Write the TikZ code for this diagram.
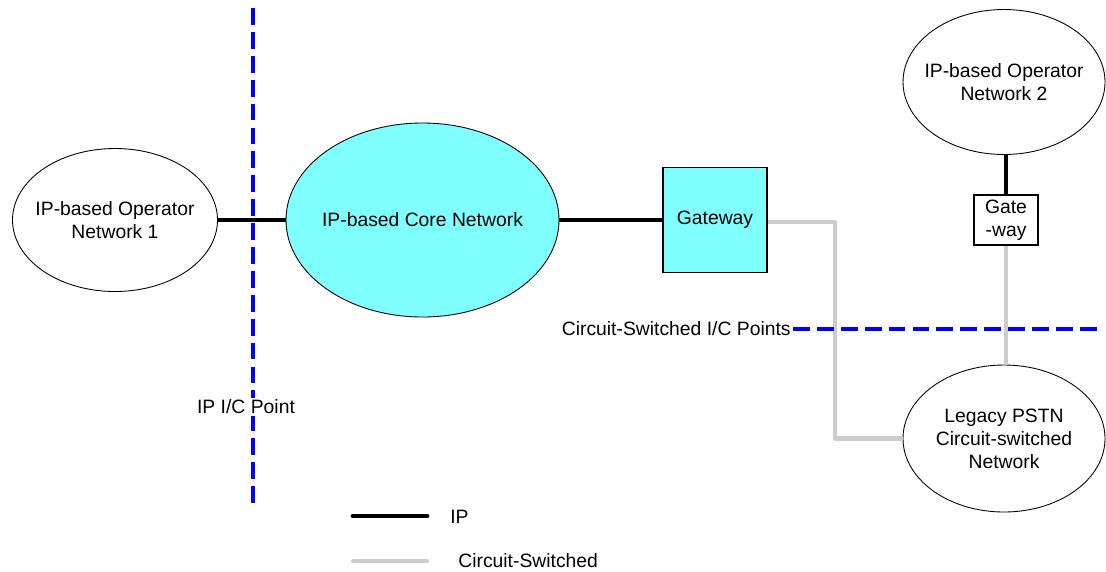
\documentclass[tikz,border=0pt]{standalone}
\usepackage{fontspec}
\setmainfont{Liberation Sans}
\usetikzlibrary{shapes.geometric}

\definecolor{corecyan}{RGB}{128,255,255}
\definecolor{csgray}{RGB}{204,204,204}
\definecolor{icblue}{RGB}{0,0,255}

\tikzset{
	net/.style = {ellipse, draw, line width = 0.5pt, inner xsep = -0.6cm, inner ysep = 0pt, align = center},
	gwbox/.style = {rectangle, draw, line width = 0.6pt, inner sep = 0pt, align = center},
	ipline/.style = {line width = 2.8pt},
	csline/.style = {line width = 2.3pt, csgray},
	icline/.style = {line width = 1.8pt, icblue, dash pattern = on 9.6pt off 4pt}
}

\begin{document}
\begin{tikzpicture}[font = \fontsize{11}{13}\selectfont]
	\useasboundingbox (0,0) rectangle (22.12,-11.42);
	% networks and gateways
	\node [net, minimum width = 4.10cm, minimum height = 2.86cm] (net1) at (2.30,-4.40) {IP-based Operator\\Network 1};
	\node [net, fill = corecyan, minimum width = 5.46cm, minimum height = 3.88cm] (core) at (8.45,-4.40) {IP-based Core Network};
	\node [gwbox, fill = corecyan, minimum width = 2.08cm, minimum height = 2.10cm] (gw) at (14.30,-4.40) {Gateway};
	\node [net, minimum width = 4.04cm, minimum height = 2.90cm] (net2) at (20.08,-1.64) {IP-based Operator\\Network 2};
	\node [gwbox, minimum width = 1.28cm, minimum height = 1.00cm] (smallgw) at (20.12,-4.40) {Gate\\-way};
	\node [net, minimum width = 4.04cm, minimum height = 2.94cm] (pstn) at (20.08,-8.77) {Legacy PSTN\\Circuit-switched\\Network};
	% interconnect points
	\draw [icline] (5.06,-0.16) -- (5.06,-10.16);
	\node [fill = white, inner sep = 1pt] (ipic) at (4.92,-8.14) {IP I/C Point};
	\node [anchor = east, inner sep = 0pt] (csic) at (15.82,-6.58) {Circuit-Switched I/C Points};
	\coordinate (csend) at (22.00,-6.58);
	% links
	\draw [ipline] (net1) -- (core);
	\draw [ipline] (core) -- (gw);
	\draw [ipline] (net2.south -| smallgw.north) -- (smallgw.north);
	\coordinate (bend) at (16.70,-4.44);
	\draw [csline, line join = round] (gw.east |- bend) -- (bend) |- (pstn.west);
	\draw [csline] (smallgw.south) -- (smallgw.south |- pstn.north);
	\draw [icline] (csic.east) ++(0.04,0) -- (csend);
	% legend
	\coordinate (ipa) at (7.06,-10.32);
	\coordinate (ipb) at (8.54,-10.32);
	\coordinate (csa) at (7.06,-11.22);
	\coordinate (csb) at (8.54,-11.22);
	\draw [ipline, line cap = round] (ipa) -- (ipb);
	\draw [csline, line cap = round] (csa) -- (csb);
	\node [anchor = west, inner sep = 0pt] (iptxt) at (9.00,-10.34) {IP};
	\node [anchor = west, inner sep = 0pt] (cstxt) at (9.16,-11.22) {Circuit-Switched};
\end{tikzpicture}
\end{document}
